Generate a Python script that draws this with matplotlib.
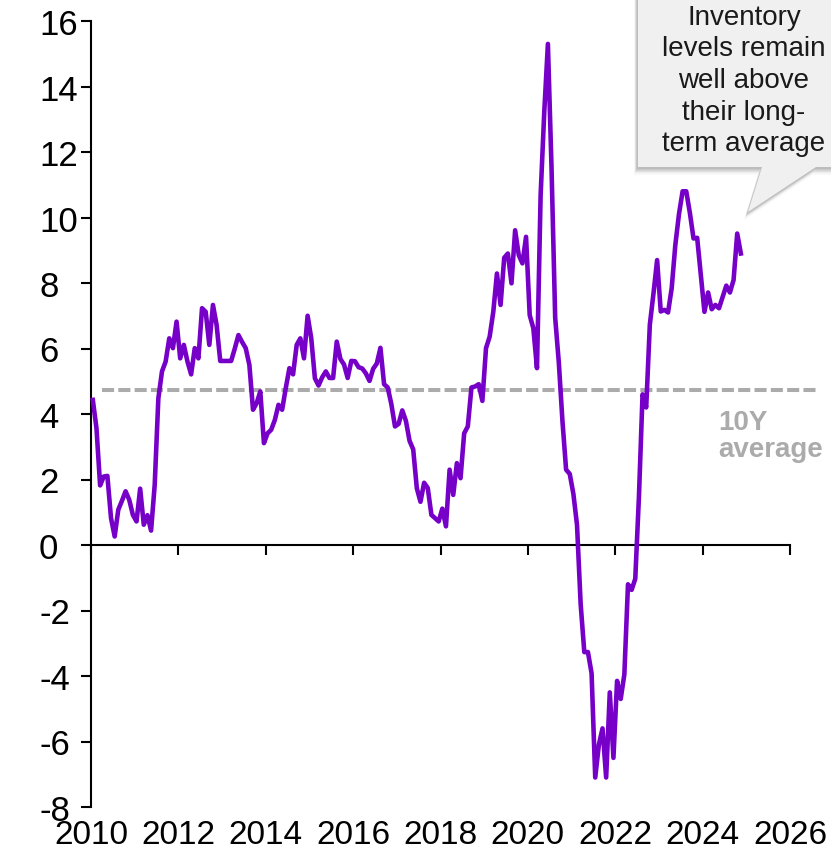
import matplotlib
matplotlib.use("Agg")
import matplotlib.pyplot as plt
from matplotlib.patches import Polygon
import pandas as pd

plt.rcParams['font.family'] = ['Liberation Sans', 'DejaVu Sans']

# Monthly inventory balance, starting January 2010
first_month = "2010-01"
inventory = [
    # 2010
    4.43, 3.57, 1.82, 2.09, 2.11, 0.82, 0.26, 1.08, 1.35, 1.64, 1.38, 0.92,
    # 2011
    0.72, 1.72, 0.62, 0.91, 0.44, 1.84, 4.48, 5.30, 5.60, 6.31, 6.01, 6.82,
    # 2012
    5.70, 6.11, 5.60, 5.21, 6.01, 5.70, 7.23, 7.12, 6.11, 7.33, 6.72, 5.62,
    # 2013
    5.62, 5.62, 5.62, 6.00, 6.41, 6.20, 6.01, 5.50, 4.13, 4.33, 4.69, 3.11,
    # 2014
    3.41, 3.52, 3.82, 4.28, 4.13, 4.79, 5.40, 5.21, 6.11, 6.31, 5.70, 7.00,
    # 2015
    6.31, 5.09, 4.87, 5.12, 5.30, 5.10, 5.10, 6.21, 5.68, 5.51, 5.10, 5.62,
    # 2016
    5.61, 5.43, 5.39, 5.24, 5.01, 5.38, 5.54, 6.02, 4.91, 4.81, 4.30, 3.62,
    # 2017
    3.70, 4.11, 3.79, 3.18, 2.92, 1.73, 1.32, 1.90, 1.74, 0.92, 0.82, 0.72,
    # 2018
    1.11, 0.57, 2.30, 1.53, 2.50, 2.04, 3.41, 3.62, 4.81, 4.84, 4.91, 4.40,
    # 2019
    6.01, 6.36, 7.12, 8.29, 7.33, 8.77, 8.90, 7.99, 9.61, 8.85, 8.60, 9.41,
    # 2020
    7.02, 6.62, 5.40, 10.68, 13.22, 15.30, 11.50, 6.94, 5.57, 3.78, 2.30, 2.17,
    # 2021
    1.56, 0.61, -1.81, -3.27, -3.27, -3.92, -7.10, -6.10, -5.60, -7.10, -4.50, -6.50,
    # 2022
    -4.15, -4.70, -3.95, -1.20, -1.37, -1.03, 1.46, 4.60, 4.20, 6.73, 7.68, 8.70,
    # 2023
    7.13, 7.18, 7.10, 7.84, 9.16, 10.10, 10.80, 10.80, 10.14, 9.36, 9.38, 8.24,
    # 2024
    7.12, 7.71, 7.20, 7.33, 7.23, 7.58, 7.92, 7.71, 8.09, 9.51, 8.90,
]
ten_year_average = 4.73

x_ticks = [2010, 2012, 2014, 2016, 2018, 2020, 2022, 2024, 2026]
y_ticks = [-8, -6, -4, -2, 0, 2, 4, 6, 8, 10, 12, 14, 16]
callout_lines = ["Inventory", "levels remain", "well above", "their long-", "term average"]
average_lines = ["10Y", "average"]

# mid-month positions on a decimal-year axis
periods = pd.period_range(first_month, periods=len(inventory), freq="M")
x = [p.year + (p.month - 0.5) / 12 for p in periods]

W, H = 831, 854
fig = plt.figure(figsize=(W / 100, H / 100), dpi=100)
ax = fig.add_axes([91 / W, 46 / H, (790 - 91) / W, (808 - 22) / H])

PURPLE = "#7600C8"
GREY = "#ABABAB"

ax.plot([2010.25, 2026.65], [ten_year_average] * 2, color=GREY, lw=2.9,
        dashes=(3.0, 1.05), clip_on=False, zorder=2)
ax.plot(x, inventory, color=PURPLE, lw=3.3, zorder=3, clip_on=False)

ax.set_xlim(2010, 2026)
ax.set_ylim(-8, 16)

for side in ("top", "right"):
    ax.spines[side].set_visible(False)
ax.spines["left"].set_linewidth(1.5)
ax.spines["bottom"].set_linewidth(1.5)
ax.spines["bottom"].set_position(("data", 0))

# y labels are left-aligned in a column left of the spine
ax.set_yticks(y_ticks, labels=[str(v) for v in y_ticks])
ax.set_xticks(x_ticks, labels=[])
ax.tick_params(axis="both", direction="out", length=7.2, width=1.5, colors="black")
ax.tick_params(axis="y", labelsize=25, pad=30.2)
for lab in ax.get_yticklabels():
    lab.set_horizontalalignment("left")

sec = ax.secondary_xaxis(0)
sec.set_xticks(x_ticks, labels=[str(v) for v in x_ticks])
sec.tick_params(length=0, labelsize=24, pad=9)
sec.spines["bottom"].set_visible(False)

# callout bubble (figure pixel coordinates, measured from the top)
def px(pts):
    return [(a / W, 1 - b / H) for a, b in pts]

bubble = [(638, -20), (860, -20), (860, 168), (816, 168), (748, 213), (762, 168), (638, 168)]
for dx, dy, a in [(-1, 2, 0.05), (-2, 3, 0.05), (-2, 4, 0.05), (-3, 5, 0.05), (-3, 6, 0.04), (-4, 8, 0.03)]:
    fig.patches.append(Polygon(px([(p + dx, q + dy) for p, q in bubble]), closed=True,
                               transform=fig.transFigure, facecolor="black", alpha=a,
                               edgecolor="none", zorder=5))
fig.patches.append(Polygon(px(bubble), closed=True, transform=fig.transFigure,
                           facecolor="#F0F0F0", edgecolor="none", zorder=6))

for i, line in enumerate(callout_lines):
    fig.text(744 / W, 1 - (25 + 31.5 * i) / H, line, ha="center", va="baseline",
             fontsize=20, color="#1A1A1A", zorder=7)

for i, line in enumerate(average_lines):
    fig.text(718 / W, 1 - (430 + 27 * i) / H, line, ha="left", va="baseline",
             fontsize=20, fontweight="bold", color=GREY)

fig.savefig("out.png", dpi=100)
